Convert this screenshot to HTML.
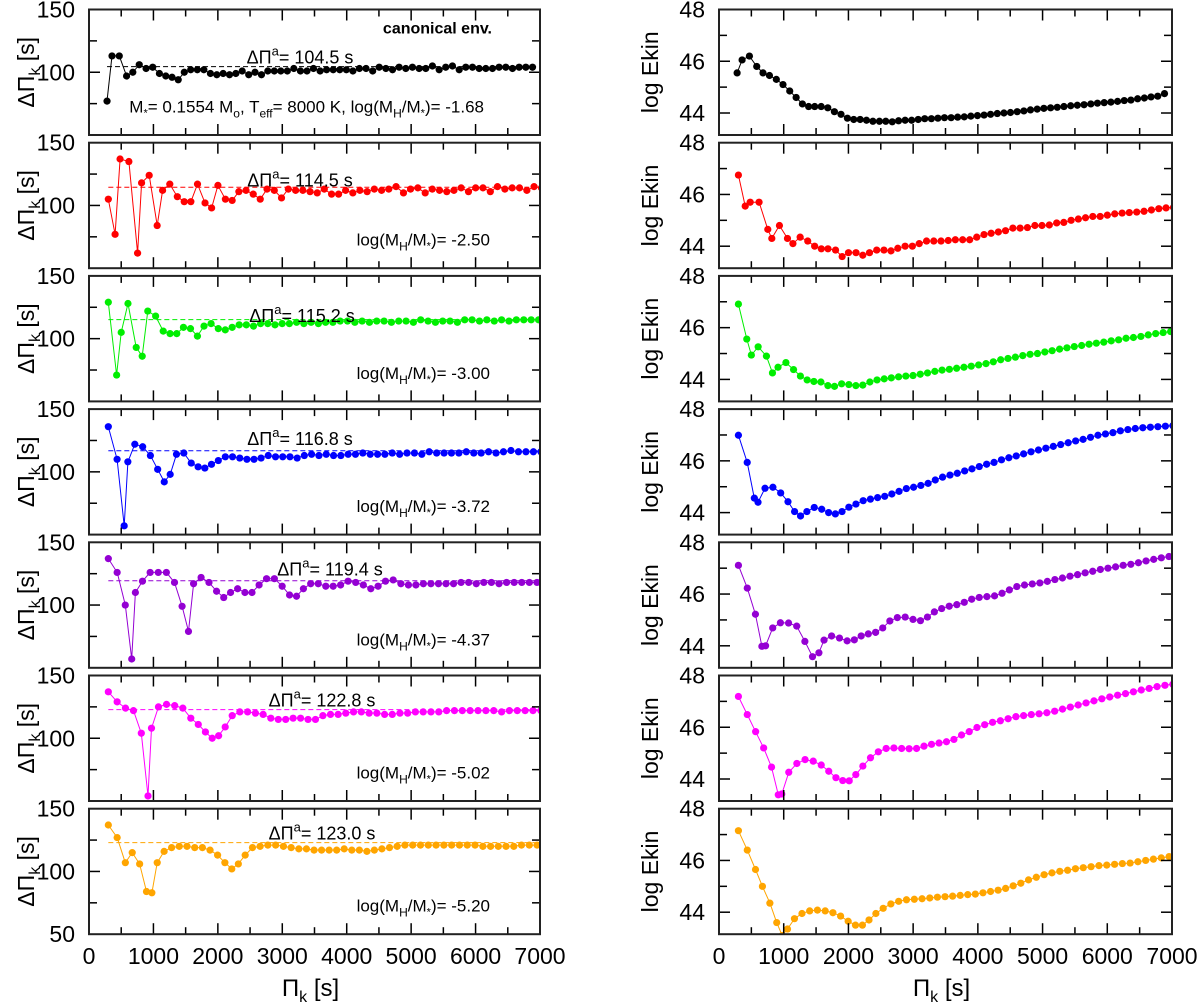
<!DOCTYPE html>
<html><head><meta charset="utf-8">
<style>
html,body{margin:0;padding:0;background:#fff;}
svg{display:block;font-family:"Liberation Sans",Arial,sans-serif;}
</style></head>
<body>
<svg id="chart" width="1200" height="1006" viewBox="0 0 1200 1006" xmlns="http://www.w3.org/2000/svg"></svg>
<script>
const colors = ["#000000","#ff0000","#00ee00","#0000ff","#9400d3","#ff00ff","#ffa500"];
const meanSpacing = [104.5,114.5,115.2,116.8,119.4,122.8,123.0];
const meanLabels = ["104.5","114.5","115.2","116.8","119.4","122.8","123.0"];
const hLabels = ["-1.68","-2.50","-3.00","-3.72","-4.37","-5.02","-5.20"];
const startPeriods = [280,300,300,300,300,300,300];
const xTicks = [0,1000,2000,3000,4000,5000,6000,7000];
const dpBlack = [77,113,113,97,100,106,103,104,99,97,96,94,100,102,102,102,99,98,99,98,99,101,98,100,98,101,101,101,101,103,101,101,103,101,102,102,102,102,101,103,103,101,104,103,102,104,103,104,103,103,105,102,104,105,102,104,104,103,103,103,104,104,103,104,104,104];
const dpRed = [105,77,137,135,62,118,124,84,112,117,107,103,103,117,102,98,116,105,104,111,112,109,105,113,112,106,113,112,112,111,110,113,109,109,112,110,112,111,113,112,113,115,110,113,114,110,113,112,111,112,114,111,114,114,111,115,113,114,114,112,115,114,113,115];
const dpGreen = [129,71,105,128,93,86,122,118,106,104,104,109,108,102,110,112,108,107,109,111,111,110,112,112,111,112,112,113,112,113,112,113,113,114,114,113,114,113,114,114,113,114,114,113,115,114,113,114,114,113,115,115,114,115,114,115,114,115,115,115,115];
const dpBlue = [136,110,57,108,122,120,113,102,92,98,114,115,107,104,103,106,109,112,112,111,110,110,111,113,112,112,112,111,113,114,113,114,113,113,114,114,115,114,114,114,115,114,115,115,114,116,115,115,115,115,116,115,115,116,115,116,117,116,116,116,116];
const dpPurple = [137,126,100,57,110,119,126,126,126,118,99,79,117,122,118,111,106,110,113,110,110,116,121,121,115,108,107,113,117,117,115,115,116,119,118,116,113,115,119,120,117,116,116,117,117,117,117,117,118,118,117,118,118,117,118,118,118,118,118];
const dpMagenta = [137,129,124,122,104,54,108,125,127,126,124,116,111,105,100,102,109,118,121,121,120,119,116,115,115,116,116,115,115,118,119,119,120,121,121,120,120,119,119,120,120,121,121,121,121,122,122,122,122,122,122,122,121,122,122,122,122,122];
const dpOrange = [137,127,107,115,106,84,83,107,116,119,120,120,119,119,117,113,107,102,106,113,119,120,121,121,120,119,118,118,117,117,117,117,118,117,117,116,117,118,119,120,121,121,121,121,121,121,121,121,121,121,120,120,120,120,120,121,121,121];
const ekBlack = [45.55,46.05,46.2,45.8,45.55,45.45,45.3,45.1,44.85,44.6,44.35,44.25,44.25,44.25,44.2,44.05,43.95,43.8,43.75,43.75,43.72,43.68,43.68,43.68,43.66,43.7,43.72,43.72,43.75,43.78,43.78,43.8,43.82,43.82,43.84,43.85,43.88,43.9,43.92,43.95,43.98,44.0,44.02,44.05,44.08,44.12,44.15,44.18,44.2,44.22,44.25,44.28,44.3,44.32,44.35,44.38,44.4,44.42,44.45,44.48,44.5,44.55,44.58,44.62,44.65,44.75];
const ekRed = [46.75,45.55,45.7,45.7,44.65,44.3,44.8,44.3,44.1,44.35,44.2,44.0,43.9,43.9,43.85,43.6,43.75,43.75,43.65,43.75,43.85,43.85,43.82,43.92,44.0,44.0,44.1,44.2,44.2,44.2,44.22,44.25,44.25,44.25,44.35,44.45,44.5,44.55,44.6,44.7,44.7,44.72,44.8,44.8,44.82,44.9,44.92,45.0,45.05,45.1,45.15,45.15,45.2,45.25,45.28,45.3,45.32,45.35,45.4,45.45,45.48,45.5,45.52,45.55];
const ekGreen = [46.91,45.56,44.94,45.26,44.9,44.25,44.47,44.65,44.38,44.13,43.98,43.92,43.9,43.76,43.73,43.83,43.8,43.76,43.78,43.9,43.98,44.02,44.06,44.1,44.13,44.15,44.2,44.25,44.31,44.36,44.39,44.43,44.47,44.51,44.56,44.61,44.68,44.76,44.81,44.86,44.92,44.97,45.0,45.06,45.11,45.17,45.22,45.27,45.31,45.36,45.4,45.44,45.49,45.53,45.59,45.62,45.66,45.72,45.77,45.81,45.85];
const ekBlue = [46.99,45.94,44.56,44.4,44.94,44.98,44.76,44.42,44.04,43.87,44.04,44.2,44.13,44.0,43.95,44.04,44.21,44.33,44.46,44.52,44.58,44.63,44.72,44.82,44.93,44.98,45.05,45.13,45.26,45.37,45.45,45.52,45.61,45.69,45.78,45.87,45.94,46.04,46.12,46.19,46.27,46.35,46.42,46.49,46.56,46.63,46.7,46.77,46.83,46.91,46.99,47.04,47.09,47.16,47.21,47.25,47.28,47.3,47.32,47.34,47.36];
const ekPurple = [47.11,46.23,45.22,43.98,44.0,44.69,44.89,44.88,44.76,44.17,43.58,43.73,44.22,44.38,44.3,44.19,44.23,44.38,44.46,44.52,44.69,44.96,45.09,45.11,45.02,44.97,45.11,45.31,45.44,45.53,45.59,45.68,45.8,45.87,45.9,45.93,46.03,46.16,46.29,46.35,46.39,46.43,46.49,46.56,46.62,46.69,46.75,46.82,46.88,46.95,47.0,47.05,47.11,47.15,47.21,47.28,47.34,47.4,47.45];
const ekMagenta = [47.19,46.49,45.83,45.2,44.46,43.39,43.42,44.26,44.6,44.75,44.69,44.54,44.3,44.05,43.94,43.93,44.17,44.5,44.82,45.05,45.18,45.2,45.18,45.17,45.18,45.27,45.34,45.39,45.44,45.53,45.7,45.83,45.99,46.1,46.19,46.25,46.33,46.41,46.45,46.49,46.52,46.56,46.62,46.7,46.78,46.86,46.94,47.02,47.1,47.17,47.24,47.3,47.37,47.44,47.5,47.57,47.62,47.66];
const ekOrange = [47.15,46.4,45.65,45.0,44.35,43.6,43.1,43.35,43.75,43.95,44.05,44.08,44.05,43.98,43.85,43.65,43.5,43.5,43.7,43.95,44.15,44.32,44.42,44.48,44.5,44.52,44.55,44.58,44.6,44.62,44.65,44.68,44.7,44.75,44.8,44.85,44.92,45.02,45.12,45.25,45.35,45.45,45.52,45.58,45.62,45.68,45.72,45.76,45.8,45.82,45.85,45.88,45.9,45.95,46.0,46.05,46.1,46.15,46.2];

const dpSeries = [dpBlack,dpRed,dpGreen,dpBlue,dpPurple,dpMagenta,dpOrange];
const ekSeries = [ekBlack,ekRed,ekGreen,ekBlue,ekPurple,ekMagenta,ekOrange];

const NS = "http://www.w3.org/2000/svg";
const svg = document.getElementById('chart');
const L = {x0:89, x1:540}, R = {x0:719, x1:1172};
const TOP0 = 9.5, PERIOD = 133.2, H = 125.5;
const DPMIN = 50, DPMAX = 150, EKMIN = 43.15, EKMAX = 48;
const labelDy = [54,44,46,36,33,31,31];
const labelX = [300,300,302,300,330,322,322];

function mk(tag, attrs, parent) {
  const e = document.createElementNS(NS, tag);
  for (const k in attrs) e.setAttribute(k, attrs[k]);
  (parent || svg).appendChild(e);
  return e;
}
function xScale(p, side) { return side.x0 + (p / 7000) * (side.x1 - side.x0); }
function yDp(v, top) { return top + (DPMAX - v) / (DPMAX - DPMIN) * H; }
function yEk(v, top) { return top + (EKMAX - v) / (EKMAX - EKMIN) * H; }

const defs = mk('defs', {});
for (let i = 0; i < 7; i++) {
  const top = TOP0 + i * PERIOD;
  ['L','R'].forEach(s => {
    const side = s === 'L' ? L : R;
    const cp = mk('clipPath', {id: 'clip' + s + i}, defs);
    mk('rect', {x: side.x0, y: top, width: side.x1 - side.x0, height: H}, cp);
  });
}

function frameAndTicks(side, top, isLeft, panelIdx, g) {
  for (let p = 0; p <= 7000; p += 500) {
    const x = xScale(p, side);
    const len = (p % 1000 === 0) ? 11 : 7;
    if (p > 0 && p < 7000) {
      const t1 = mk('line', {x1: x, y1: top, x2: x, y2: top + len, stroke: '#000', 'stroke-width': 1.5}, g);
      
      
      const t2 = mk('line', {x1: x, y1: top + H, x2: x, y2: top + H - len, stroke: '#000', 'stroke-width': 1.5}, g);
      
      
    }
  }
  const yt = isLeft ? [75, 100, 125] : [44, 45, 46, 47];
  yt.forEach(v => {
    const y = isLeft ? yDp(v, top) : yEk(v, top);
    const major = isLeft ? (v === 100) : (v % 2 === 0);
    const len = major ? 11 : 8;
    const a = mk('line', {x1: side.x0, y1: y, x2: side.x0 + len, y2: y, stroke: '#000', 'stroke-width': 1.5}, g);
    
    
    const b = mk('line', {x1: side.x1, y1: y, x2: side.x1 - len, y2: y, stroke: '#000', 'stroke-width': 1.5}, g);
    
    
  });
  const fr = mk('rect', {x: side.x0, y: top, width: side.x1 - side.x0, height: H, fill: 'none', stroke: '#222', 'stroke-width': 2}, g);
  
  
  const lx = side.x0 - 14;
  const labs = isLeft ? [150, 100] : [48, 46, 44];
  labs.forEach(v => {
    const y = isLeft ? yDp(v, top) : yEk(v, top);
    const t = mk('text', {x: lx, y: y + 8, 'text-anchor': 'end', 'font-size': 23}, g);
    t.textContent = String(v);
    
    
  });
  if (isLeft && panelIdx === 6) {
    const t = mk('text', {x: lx, y: top + H + 8, 'text-anchor': 'end', 'font-size': 23}, g);
    t.textContent = '50';
    
    
  }
  const cx = isLeft ? 26 : 650;
  const cy = top + H / 2;
  const at = mk('text', {x: cx, y: cy, 'text-anchor': 'middle', 'font-size': 23, transform: `rotate(-90 ${cx} ${cy})`, dy: 8}, g);
  
  
  if (isLeft) {
    at.innerHTML = 'ΔΠ<tspan font-size="16" dy="6">k</tspan><tspan dy="-6"> [s]</tspan>';
  } else {
    at.textContent = 'log Ekin';
  }
}

for (let i = 0; i < 7; i++) {
  const top = TOP0 + i * PERIOD;
  const col = colors[i];
  const dp = dpSeries[i], ek = ekSeries[i];
  const periods = [startPeriods[i]];
  for (let k = 1; k < dp.length; k++) periods.push(periods[k - 1] + dp[k - 1]);

  const gL = mk('g', {});
  
  
  const cL = mk('g', {'clip-path': `url(#clipL${i})`}, gL);
  const dl = mk('line', {x1: xScale(periods[0], L), x2: L.x1, y1: yDp(meanSpacing[i], top), y2: yDp(meanSpacing[i], top), stroke: col, 'stroke-width': 1, 'stroke-dasharray': '5,3'}, cL);
  
  
  const ptsL = dp.map((v, k) => xScale(periods[k], L).toFixed(1) + ',' + yDp(v, top).toFixed(1)).join(' ');
  const plL = mk('polyline', {points: ptsL, fill: 'none', stroke: col, 'stroke-width': 1}, cL);
  
  
  dp.forEach((v, k) => {
    const c = mk('circle', {cx: xScale(periods[k], L), cy: yDp(v, top), r: 3.6, fill: col}, cL);
    
    
  });
  frameAndTicks(L, top, true, i, gL);
  const mt = mk('text', {x: labelX[i], y: top + labelDy[i], 'text-anchor': 'middle', 'font-size': 18}, gL);
  mt.innerHTML = 'ΔΠ<tspan font-size="13" dy="-8">a</tspan><tspan dy="8">= ' + meanLabels[i] + ' s</tspan>';
  
  
  if (i === 0) {
    const ce = mk('text', {x: 492, y: top + 24, 'text-anchor': 'end', 'font-size': 16, 'font-weight': 'bold'}, gL);
    ce.textContent = 'canonical env.';
    
    
    const pt = mk('text', {x: 484, y: top + 103, 'text-anchor': 'end', 'font-size': 17}, gL);
    pt.innerHTML = 'M<tspan font-size="11" dy="4">*</tspan><tspan dy="-4">= 0.1554 M</tspan><tspan font-size="12" dy="5">o</tspan><tspan dy="-5">, T</tspan><tspan font-size="12" dy="5">eff</tspan><tspan dy="-5">= 8000 K, log(M</tspan><tspan font-size="12" dy="5">H</tspan><tspan dy="-5">/M</tspan><tspan font-size="11" dy="4">*</tspan><tspan dy="-4">)= ' + hLabels[i] + '</tspan>';
    
    
  } else {
    const ht = mk('text', {x: 490, y: top + 103, 'text-anchor': 'end', 'font-size': 17}, gL);
    ht.innerHTML = 'log(M<tspan font-size="12" dy="5">H</tspan><tspan dy="-5">/M</tspan><tspan font-size="11" dy="4">*</tspan><tspan dy="-4">)= ' + hLabels[i] + '</tspan>';
    
    
  }

  const gR = mk('g', {});
  
  
  const cR = mk('g', {'clip-path': `url(#clipR${i})`}, gR);
  const n = Math.min(ek.length, periods.length);
  const ptsR = [];
  for (let k = 0; k < n; k++) ptsR.push(xScale(periods[k], R).toFixed(1) + ',' + yEk(ek[k], top).toFixed(1));
  const plR = mk('polyline', {points: ptsR.join(' '), fill: 'none', stroke: col, 'stroke-width': 1}, cR);
  
  
  for (let k = 0; k < n; k++) {
    const c = mk('circle', {cx: xScale(periods[k], R), cy: yEk(ek[k], top), r: 3.6, fill: col}, cR);
    
    
  }
  frameAndTicks(R, top, false, i, gR);
}

const bottom = TOP0 + 6 * PERIOD + H;
[L, R].forEach((side, si) => {
  xTicks.forEach(p => {
    const t = mk('text', {x: xScale(p, side), y: bottom + 30, 'text-anchor': 'middle', 'font-size': 23});
    t.textContent = String(p);
    
    
  });
  const xt = mk('text', {x: (side.x0 + side.x1) / 2 - 4, y: bottom + 62, 'text-anchor': 'middle', 'font-size': 24});
  xt.innerHTML = 'Π<tspan font-size="16" dy="6">k</tspan><tspan dy="-6"> [s]</tspan>';
  
  
});
</script>
</body></html>
